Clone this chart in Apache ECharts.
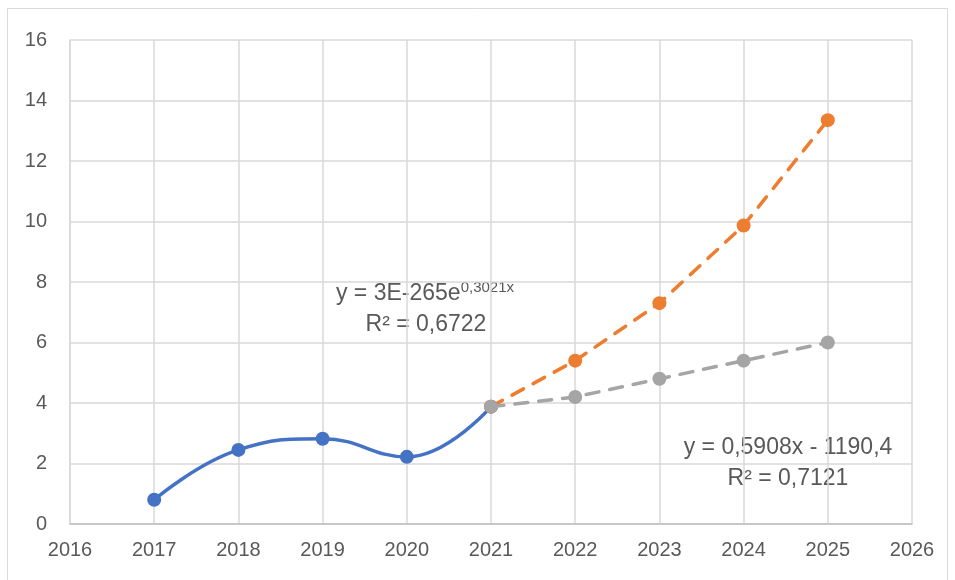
<!DOCTYPE html>
<html>
<head>
<meta charset="utf-8">
<script src="https://cdn.jsdelivr.net/npm/echarts@6/dist/echarts.min.js"></script>
<style>
  html, body { margin: 0; padding: 0; background: #fff; }
  #chart { width: 955px; height: 580px; }
</style>
</head>
<body>
<div id="chart"></div>
<script>
// values
var years = [2017, 2018, 2019, 2020, 2021]
var actual = [0.8, 2.45, 2.82, 2.22, 3.88]
var forecastYears = [2021, 2022, 2023, 2024, 2025]
var expForecast = [3.88, 5.4, 7.3, 9.87, 13.35]
var linForecast = [3.88, 4.2, 4.8, 5.4, 6.0]

var pairs = function (xs, ys) {
  return xs.map(function (x, i) { return [x, ys[i]] })
}

var chart = echarts.init(document.getElementById('chart'))
var textColor = '#595959'
var font = 'Liberation Sans'

chart.setOption({
  animation: false,
  grid: { left: 70, right: 43, top: 40, bottom: 56 },
  xAxis: {
    type: 'value',
    min: 2016,
    max: 2026,
    interval: 1,
    axisLine: { show: true, lineStyle: { color: '#bfbfbf', width: 1.5 } },
    axisTick: { show: false },
    axisLabel: {
      color: textColor, fontSize: 20, fontFamily: font, margin: 16,
      formatter: function (v) { return String(v) }
    },
    splitLine: { show: true, lineStyle: { color: '#d9d9d9', width: 1.5 } }
  },
  yAxis: {
    type: 'value',
    min: 0,
    max: 16,
    interval: 2,
    axisLine: { show: true, lineStyle: { color: '#d9d9d9', width: 1.5 } },
    axisTick: { show: false },
    axisLabel: { color: textColor, fontSize: 20, fontFamily: font, margin: 23 },
    splitLine: { lineStyle: { color: '#d9d9d9', width: 1.5 } }
  },
  series: [
    {
      name: 'actual',
      type: 'line',
      smooth: 0.45,
      data: pairs(years, actual),
      symbol: 'circle',
      symbolSize: 14,
      lineStyle: { color: '#4472c4', width: 3.5 },
      itemStyle: { color: '#4472c4' },
      z: 3
    },
    {
      name: 'exp',
      type: 'line',
      data: pairs(forecastYears, expForecast),
      symbol: 'circle',
      symbolSize: 14,
      lineStyle: { color: '#ed7d31', width: 3.5, type: [13, 11], cap: 'round' },
      itemStyle: { color: '#ed7d31' },
      z: 4
    },
    {
      name: 'lin',
      type: 'line',
      data: pairs(forecastYears, linForecast),
      symbol: 'circle',
      symbolSize: 14,
      lineStyle: { color: '#a5a5a5', width: 3.5, type: [13, 11], cap: 'round' },
      itemStyle: { color: '#a5a5a5' },
      z: 5
    }
  ],
  graphic: [
    {
      type: 'rect',
      shape: { x: 7.5, y: 8.5, width: 940, height: 600 },
      style: { fill: 'none', stroke: '#d9d9d9', lineWidth: 1 },
      silent: true
    },
    {
      type: 'text',
      x: 425, y: 294,
      style: {
        text: '{a|y = 3E-265e}{s|0,3021x}',
        align: 'center', verticalAlign: 'middle',
        rich: {
          a: { fontSize: 23, fontFamily: font, fill: textColor },
          s: { fontSize: 15, fontFamily: font, fill: textColor, verticalAlign: 'top', padding: [0, 0, 12, 0] }
        }
      }
    },
    {
      type: 'text',
      x: 426, y: 325,
      style: { text: 'R² = 0,6722', align: 'center', verticalAlign: 'middle', fontSize: 23, fontFamily: font, fill: textColor }
    },
    {
      type: 'text',
      x: 788, y: 448,
      style: { text: 'y = 0,5908x - 1190,4', align: 'center', verticalAlign: 'middle', fontSize: 23, fontFamily: font, fill: textColor }
    },
    {
      type: 'text',
      x: 788, y: 479,
      style: { text: 'R² = 0,7121', align: 'center', verticalAlign: 'middle', fontSize: 23, fontFamily: font, fill: textColor }
    }
  ]
})
</script>
</body>
</html>
